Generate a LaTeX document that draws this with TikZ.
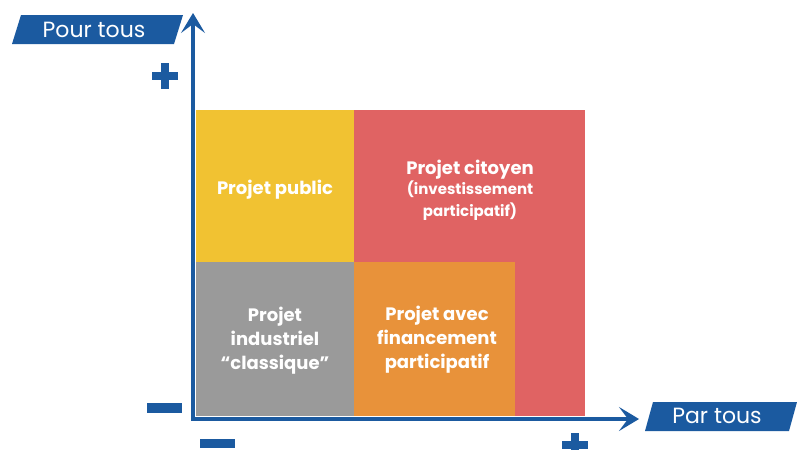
\documentclass[tikz,border=0pt]{standalone}
\usepackage{fontspec}
\setmainfont{Poppins}
\usetikzlibrary{arrows.meta}
\definecolor{axisblue}{HTML}{1B5AA0}
\definecolor{cyellow}{HTML}{F1C232}
\definecolor{cred}{HTML}{E06363}
\definecolor{cgrey}{HTML}{9A9A9A}
\definecolor{corange}{HTML}{E8923A}
\tikzset{
  cell/.style={rectangle, inner sep=0pt, draw=none},
  celltext/.style={text=white, font=\bfseries\fontsize{18}{24}\selectfont, align=center, inner sep=0pt},
  axisline/.style={draw=axisblue, line width=4pt, -{Stealth[length=20pt,width=24pt,inset=9pt]}},
  banner/.style={fill=axisblue},
  bannertext/.style={text=white, font=\fontsize{22}{24}\selectfont, inner sep=0pt},
  signbar/.style={fill=axisblue}
}
\begin{document}
\begin{tikzpicture}[x=1pt,y=-1pt]
\useasboundingbox (0,0) rectangle (797,450);
\fill[white] (0,0) rectangle (797,450);
% cells
\node[cell, fill=cyellow, minimum width=158pt, minimum height=152pt] (pub) at (275,186) {};
\node[cell, fill=cred, minimum width=231pt, minimum height=306pt] (cit) at (469.5,263) {};
\node[cell, fill=cgrey, minimum width=158pt, minimum height=154pt] (ind) at (275,339) {};
\node[cell, fill=corange, minimum width=161pt, minimum height=154pt] (fin) at (434.5,339) {};
% texts
\node[celltext] (tpub) at (275,190) {Projet public};
\node[celltext] (tcit) at (470,170) {Projet citoyen};
\node[celltext, font=\bfseries\fontsize{15}{22}\selectfont] (tcit2) at (470,201) {(investissement\\participatif)};
\node[celltext] (tind) at (275,341) {Projet\\industriel\\“classique”};
\node[celltext] (tfin) at (437,340) {Projet avec\\financement\\participatif};
% axes
\coordinate (o) at (193,419);
\coordinate (ytop) at (193,13);
\coordinate (xend) at (639,419);
\draw[axisline] ([yshift=2pt]o) -- (ytop);
\draw[axisline] ([xshift=-2pt]o) -- (xend);
% banners
\fill[banner] (12,44) -- (21,15) -- (183,15) -- (174,44) -- cycle;
\node[bannertext] (ylab) at (94,30) {Pour tous};
\fill[banner] (645,431) -- (653,402) -- (797,402) -- (789,431) -- cycle;
\node[bannertext] (xlab) at (717,416) {Par tous};
% signs
\fill[signbar] (152,72) rectangle (178,80);
\fill[signbar] (161,63) rectangle (169,89);
\fill[signbar] (147,403) rectangle (182,413);
\fill[signbar] (200,439) rectangle (235,448);
\fill[signbar] (562,441) rectangle (588,449);
\fill[signbar] (571,433) rectangle (579,450);
\end{tikzpicture}
\end{document}
